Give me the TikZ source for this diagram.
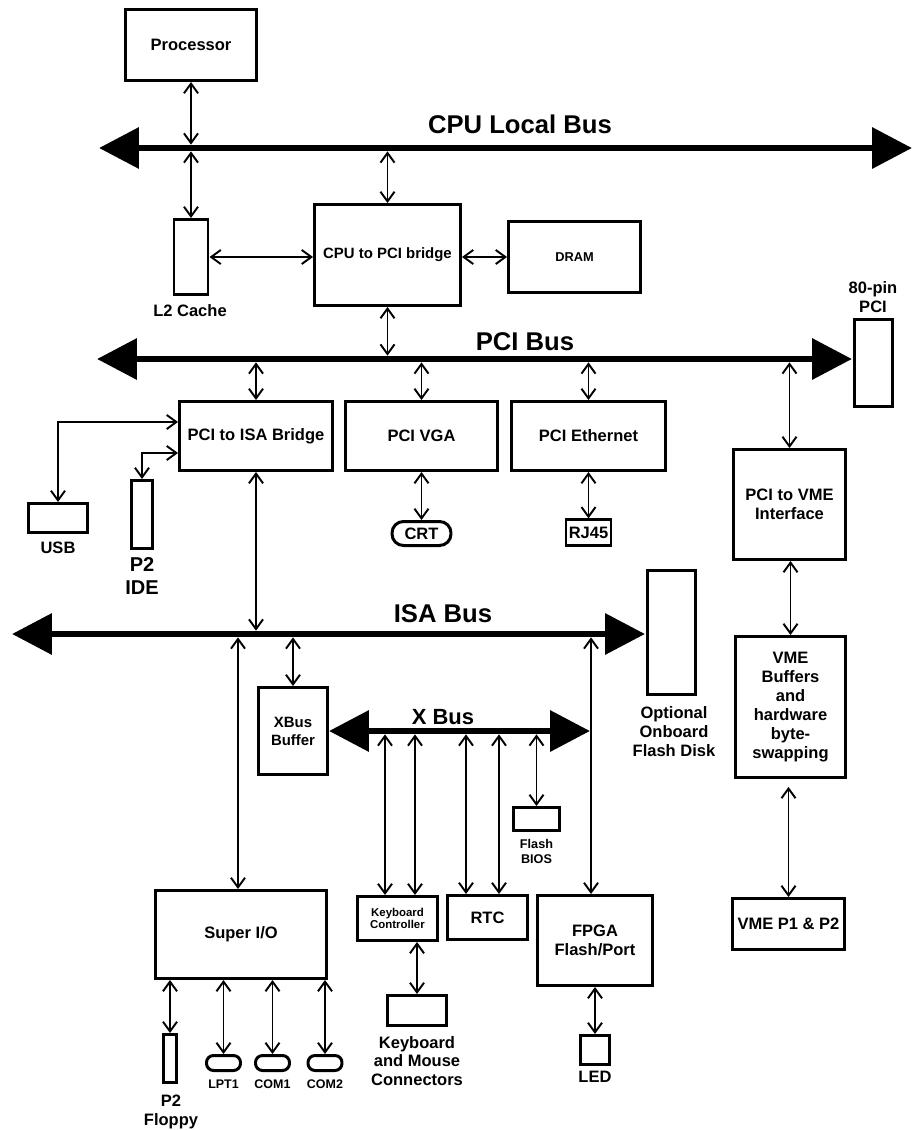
\documentclass[tikz,border=0pt]{standalone}
\usepackage{fontspec}
\setmainfont{Liberation Sans}
\usetikzlibrary{arrows.meta,calc,positioning}

\tikzset{
  blk/.style={draw=black, line width=1.7pt, inner sep=0pt, align=center,
    font=\bfseries\fontsize{9.4}{10.8}\selectfont},
  lbl/.style={inner sep=0pt, align=center, font=\bfseries\fontsize{9.4}{10.8}\selectfont},
  buslbl/.style={inner sep=0pt, font=\bfseries\fontsize{14.6}{16}\selectfont},
  bus/.style={line width=3.8pt,
    {Triangle[length=22.7pt,width=22.7pt]}-{Triangle[length=22.7pt,width=22.7pt]}},
  link/.style={line width=1.1pt,
    {Straight Barb[length=5.5pt,width=8pt]}-{Straight Barb[length=5.5pt,width=8pt]}},
  tobus/.style={link, shorten >=1.9pt},
  frombus/.style={link, shorten <=1.9pt}
}

\begin{document}
\begin{tikzpicture}[x=0.02cm, y=-0.02cm]
  \useasboundingbox (0,0) rectangle (914,1130);

  % CPU side
  \node[blk, minimum width=2.62cm, minimum height=1.42cm] (proc) at (191,45) {Processor};
  \node[blk, minimum width=0.68cm, minimum height=1.5cm] (l2) at (191,257) {};
  \node[lbl] (l2lbl) at (190,311) {L2 Cache};
  \node[blk, minimum width=2.92cm, minimum height=2.02cm, font=\bfseries\fontsize{8.5}{10}\selectfont] (cpubr) at (387.5,255) {CPU to PCI bridge};
  \node[blk, minimum width=2.64cm, minimum height=1.42cm, font=\bfseries\fontsize{7.3}{9}\selectfont] (dram) at (574.5,257) {DRAM};

  \coordinate (cpuL) at (99,148);
  \coordinate (cpuR) at (912,148);
  \draw[bus] (cpuL) -- (cpuR);
  \node[buslbl] (cpulbl) at (520,124) {CPU Local Bus};

  \draw[tobus] (proc.south) -- (proc.south |- cpuL);
  \draw[frombus] (l2.north |- cpuL) -- (l2.north);
  \draw[frombus] (cpubr.north |- cpuL) -- (cpubr.north);
  \draw[link] (l2.east) -- (l2.east -| cpubr.west);
  \draw[link] (dram.west -| cpubr.east) -- (dram.west);

  % PCI side
  \node[blk, minimum width=0.76cm, minimum height=1.74cm] (pci80) at (873.5,363) {};
  \node[lbl] (pci80lbl) at (873,297) {80-pin\\PCI};
  \node[blk, minimum width=3.06cm, minimum height=1.38cm] (pciisa) at (256,436) {PCI to ISA Bridge};
  \node[blk, minimum width=3.04cm, minimum height=1.38cm] (vga) at (421.5,436) {PCI VGA};
  \node[blk, minimum width=3.08cm, minimum height=1.38cm] (eth) at (588.5,436) {PCI Ethernet};
  \node[blk, minimum width=1.18cm, minimum height=0.48cm, rounded corners=6.5pt] (crt) at (421.5,533.5) {CRT};
  \node[blk, minimum width=0.9cm, minimum height=0.52cm, line width=1.3pt] (rj45) at (588.5,532.5) {RJ45};
  \node[blk, minimum width=1.18cm, minimum height=0.58cm] (usb) at (58,518) {};
  \node[lbl] (usblbl) at (58,548) {USB};
  \node[blk, minimum width=0.42cm, minimum height=1.36cm] (ide) at (142,514.5) {};
  \node[lbl, font=\bfseries\fontsize{11.4}{13.3}\selectfont] (idelbl) at (142,576) {P2\\IDE};
  \node[blk, minimum width=2.24cm, minimum height=2.2cm] (pcivme) at (789.5,504.5) {PCI to VME\\Interface};

  \coordinate (pciL) at (97,359);
  \coordinate (pciR) at (852,359);
  \draw[bus] (pciL) -- (pciR);
  \node[buslbl] (pcilbl) at (525,342) {PCI Bus};

  \draw[tobus] (cpubr.south) -- (cpubr.south |- pciL);
  \draw[frombus] (pciisa.north |- pciL) -- (pciisa.north);
  \draw[frombus] (vga.north |- pciL) -- (vga.north);
  \draw[frombus] (eth.north |- pciL) -- (eth.north);
  \draw[frombus] (pcivme.north |- pciL) -- (pcivme.north);
  \draw[link] ($(pciisa.west)+(0,-14)$) -| (usb.north);
  \draw[link] ($(pciisa.west)+(0,17)$) -| (ide.north);
  \draw[link] (crt.north |- vga.south) -- (crt.north);
  \draw[link] (rj45.north |- eth.south) -- (rj45.north);

  % ISA side
  \node[blk, minimum width=0.96cm, minimum height=2.48cm] (fdisk) at (671.5,632.5) {};
  \node[lbl, font=\bfseries\fontsize{9.4}{10.8}\selectfont] (fdisklbl) at (674,732) {Optional\\Onboard\\Flash Disk};
  \node[blk, minimum width=2.2cm, minimum height=2.82cm] (vmebuf) at (790.5,707) {VME\\Buffers\\and\\hardware\\byte-\\swapping};
  \node[blk, minimum width=2.24cm, minimum height=1.02cm] (vmep) at (788.5,924) {VME P1 \& P2};
  \node[blk, minimum width=1.38cm, minimum height=1.74cm, font=\bfseries\fontsize{8.5}{10.2}\selectfont] (xbuf) at (293,731) {XBus\\Buffer};

  \coordinate (isaL) at (12,634);
  \coordinate (isaR) at (645,634);
  \draw[bus] (isaL) -- (isaR);
  \node[buslbl] (isalbl) at (443,614) {ISA Bus};

  \draw[tobus] (pciisa.south) -- (pciisa.south |- isaL);
  \draw[link] (vmebuf.north |- pcivme.south) -- (vmebuf.north);
  \draw[link, shorten <=4.5pt] (vmep.north |- vmebuf.south) -- (vmep.north);
  \draw[frombus] (xbuf.north |- isaL) -- (xbuf.north);

  % X bus and devices
  \node[blk, minimum width=3.42cm, minimum height=1.76cm] (superio) at (241,934.5) {Super I/O};
  \node[blk, minimum width=0.26cm, minimum height=0.96cm] (floppy) at (170,1058.5) {};
  \node[lbl] (floppylbl) at (171,1112) {P2\\Floppy};
  \node[blk, minimum width=0.68cm, minimum height=0.3cm, rounded corners=4pt] (lpt) at (223.5,1063) {};
  \node[blk, minimum width=0.68cm, minimum height=0.3cm, rounded corners=4pt] (com1) at (272.5,1063) {};
  \node[blk, minimum width=0.68cm, minimum height=0.3cm, rounded corners=4pt] (com2) at (325,1063) {};
  \node[lbl, font=\bfseries\fontsize{7.1}{8.5}\selectfont] (lptlbl) at (223.5,1084) {LPT1};
  \node[lbl, font=\bfseries\fontsize{7.1}{8.5}\selectfont] (com1lbl) at (272.5,1084) {COM1};
  \node[lbl, font=\bfseries\fontsize{7.1}{8.5}\selectfont] (com2lbl) at (325,1084) {COM2};
  \node[blk, minimum width=1.6cm, minimum height=0.88cm, font=\bfseries\fontsize{6.5}{7.2}\selectfont] (kbc) at (397.5,918.5) {Keyboard\\Controller};
  \node[blk, minimum width=1.18cm, minimum height=0.6cm] (kbconn) at (417,1010.5) {};
  \node[lbl, font=\bfseries\fontsize{9.4}{10.5}\selectfont] (kbconnlbl) at (417,1061) {Keyboard\\and Mouse\\Connectors};
  \node[blk, minimum width=1.6cm, minimum height=0.88cm] (rtc) at (487.5,917.5) {RTC};
  \node[blk, minimum width=0.92cm, minimum height=0.46cm] (fbios) at (536.5,819) {};
  \node[lbl, font=\bfseries\fontsize{7.2}{8.5}\selectfont] (fbioslbl) at (536.5,851) {Flash\\BIOS};
  \node[blk, minimum width=2.3cm, minimum height=1.8cm] (fpga) at (595,940.5) {FPGA\\Flash/Port};
  \node[blk, minimum width=0.58cm, minimum height=0.58cm] (led) at (595,1050) {};
  \node[lbl] (ledlbl) at (595,1077) {LED};

  \coordinate (xbR) at (590,731);
  \draw[bus] (xbuf.east) -- (xbR);
  \node[lbl, font=\bfseries\fontsize{12.5}{14}\selectfont] (xbuslbl) at (443,717) {X Bus};

  \coordinate (sx) at (238,0);
  \coordinate (fx) at (591,0);
  \coordinate (kx1) at (385,0);
  \coordinate (kx2) at (415,0);
  \coordinate (rx1) at (466,0);
  \coordinate (rx2) at (499,0);

  \draw[frombus] (sx |- isaL) -- (sx |- superio.north);
  \draw[frombus] (fx |- isaL) -- (fx |- fpga.north);
  \draw[frombus] (kx1 |- xbR) -- (kx1 |- kbc.north);
  \draw[frombus] (kx2 |- xbR) -- (kx2 |- kbc.north);
  \draw[frombus] (rx1 |- xbR) -- (rx1 |- rtc.north);
  \draw[frombus] (rx2 |- xbR) -- (rx2 |- rtc.north);
  \draw[frombus] (fbios.north |- xbR) -- (fbios.north);
  \draw[link] (kbconn.north |- kbc.south) -- (kbconn.north);
  \draw[link] (fpga.south) -- (led.north);
  \foreach \p in {floppy,lpt,com1,com2}
    \draw[link] (\p.north |- superio.south) -- (\p.north);
\end{tikzpicture}
\end{document}
